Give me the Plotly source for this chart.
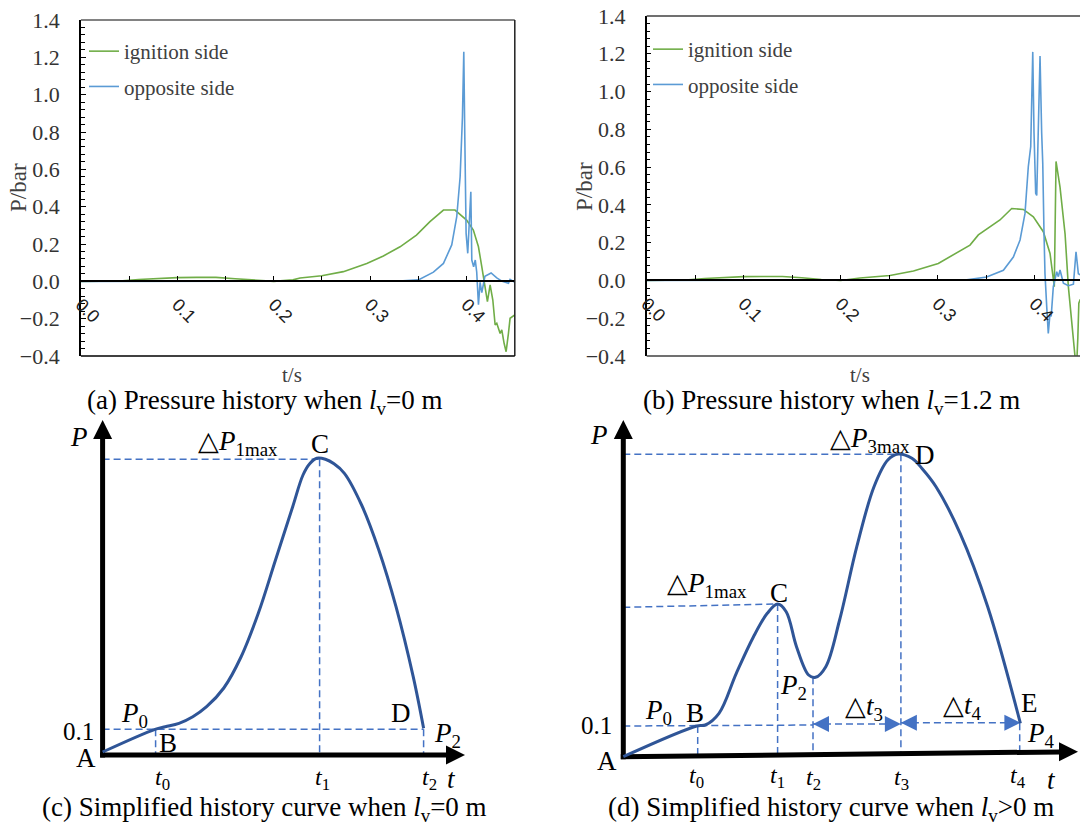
import plotly.graph_objects as go

W, H = 1080, 827
SERIF = "Liberation Serif"

# ---------------- panel (a) data: lv = 0 m ----------------
ta_ign = [0, 0.02, 0.04, 0.06, 0.08, 0.10, 0.12, 0.14, 0.16, 0.18, 0.20, 0.22, 0.2273, 0.2498,
          0.2722, 0.2965, 0.3137, 0.331, 0.348, 0.362, 0.376, 0.388, 0.400, 0.407, 0.4123, 0.4158,
          0.4192, 0.4216, 0.4244, 0.4272, 0.4296, 0.4313, 0.4348, 0.4365, 0.4389, 0.441, 0.4434,
          0.4451, 0.45]
pa_ign = [0, 0, 0.002, 0.010, 0.016, 0.020, 0.021, 0.021, 0.014, 0.005, 0.0, 0.008, 0.018, 0.030,
          0.052, 0.096, 0.136, 0.185, 0.248, 0.320, 0.382, 0.382, 0.328, 0.275, 0.185, 0.078,
          -0.029, -0.109, -0.019, -0.100, -0.234, -0.225, -0.279, -0.260, -0.332, -0.377, -0.279,
          -0.198, -0.180]
ta_opp = [0, 0.30, 0.33, 0.35, 0.3656, 0.376, 0.3846, 0.3898, 0.3933, 0.3957, 0.3971, 0.3981,
          0.3995, 0.4012, 0.403, 0.4044, 0.4054, 0.4073, 0.409, 0.4105, 0.4123, 0.414, 0.4158,
          0.419, 0.4254, 0.4313, 0.437, 0.4434, 0.4451, 0.45]
pa_opp = [0, 0, 0.002, 0.008, 0.049, 0.096, 0.195, 0.346, 0.560, 0.880, 1.230, 0.790, 0.257,
          0.150, 0.300, 0.480, 0.114, 0.078, 0.114, 0.050, -0.125, -0.005, -0.060, 0.027, 0.045,
          0.018, 0.0, -0.010, 0.010, -0.005]

# ---------------- panel (b) data: lv = 1.2 m ----------------
tb_ign = [0, 0.02, 0.04, 0.06, 0.08, 0.10, 0.12, 0.14, 0.16, 0.18, 0.20, 0.2199, 0.2508, 0.275,
          0.3006, 0.3333, 0.3419, 0.3642, 0.3763, 0.3883, 0.3986, 0.4089, 0.4158, 0.4192, 0.4202,
          0.422, 0.4261, 0.4313, 0.4347, 0.4416, 0.443, 0.4445, 0.4455, 0.447]
pb_ign = [0, 0, 0.002, 0.010, 0.016, 0.020, 0.021, 0.021, 0.014, 0.005, 0.0, 0.013, 0.026, 0.050,
          0.090, 0.187, 0.241, 0.320, 0.381, 0.376, 0.337, 0.258, 0.143, 0.019, -0.033, 0.630,
          0.494, 0.247, -0.033, -0.404, -0.480, -0.300, -0.120, -0.100]
tb_opp = [0, 0.30, 0.33, 0.3505, 0.3677, 0.378, 0.3849, 0.39, 0.3934, 0.3959, 0.3969, 0.398,
          0.3993, 0.401, 0.4021, 0.4038, 0.4055, 0.4072, 0.4083, 0.4096, 0.4106, 0.4124, 0.414,
          0.4158, 0.417, 0.4192, 0.4227, 0.4244, 0.4261, 0.4296, 0.4347, 0.4399, 0.4426, 0.445,
          0.447]
pb_opp = [0, 0, 0.003, 0.018, 0.054, 0.124, 0.214, 0.355, 0.602, 0.708, 0.955, 1.210, 0.780,
          0.461, 0.450, 0.780, 1.188, 0.780, 0.621, 0.250, 0.036, -0.140, -0.281, -0.175, -0.190,
          -0.033, 0.046, 0.020, 0.055, -0.014, -0.028, -0.020, 0.152, 0.036, 0.030]

y_ticks = [-0.4, -0.2, 0.0, 0.2, 0.4, 0.6, 0.8, 1.0, 1.2, 1.4]
x_ticks = [0.0, 0.1, 0.2, 0.3, 0.4]
legend_names = ["ignition side", "opposite side"]

# ---------------- panel (c) schematic (arbitrary units) ----------------
c_t = [0, 52.4, 62.7, 76.4, 90.2, 104, 121.2, 138.4, 155.7, 172.9, 190.1, 200.4, 207.3, 214.2,
       222.8, 231.4, 241.8, 259, 276.2, 293.4, 310.6, 321]
c_p = [3, 25.7, 28.3, 31.7, 38.3, 48.3, 67, 98, 141.7, 195, 248.3, 280, 291.5, 296.7,
       295.7, 291.2, 281.7, 250, 205, 148.3, 78.3, 26.7]
c_marks = dict(t0=53, t1=217, t2=321, p01=25.7, pmax=295.7)
c_axis = dict(tmax=362.4, pmax=335)

# ---------------- panel (d) schematic (arbitrary units) ----------------
d_t = [0, 73.4, 82, 95.7, 113, 130.2, 144, 154.3, 162.9, 173.2, 185.3, 192.2, 202.5, 216.3,
       233.5, 250.7, 264.5, 274.8, 288.6, 298.9, 312.7, 336.8, 364.4, 397.1]
d_p = [0, 30.7, 31.7, 43.4, 83.4, 120, 143.4, 152.7, 145, 110, 81.7, 79.4, 90, 136.7,
       210, 270, 296.7, 302.7, 298.4, 288, 270, 223.4, 150, 33.4]
d_marks = dict(t0=74.4, t1=154.3, t2=189.7, t3=277.6, t4=396.4,
               p01=30.7, p1=152.7, p2=79.4, p3=302.4, pe=33.4)
d_axis = dict(tmax=454.7, tslope=5.0, pmax=336.7)

# ---------------- geometry ----------------
def fx(px):
    return px / W

def fy(py):
    return 1 - py / H

xa_dom = [fx(80.9), fx(514.8)]
ya_dom = [fy(356), fy(20)]
xb_dom = [fx(646.7), 1.0]
yb_dom = [fy(356), fy(16)]
yr = [-0.4, 1.4]
xa_rng = [0, 0.45]
xb_rng = [0, (1080 - 646.7) / 970.0]

def zero_pos(dom):
    return dom[0] + (0 - yr[0]) / (yr[1] - yr[0]) * (dom[1] - dom[0])

GREEN = "#70AD47"
BLUE = "#5B9BD5"
DBLUE = "#2F5597"
DASH = "#4472C4"

fig = go.Figure()

fig.add_trace(go.Scatter(x=ta_ign, y=pa_ign, mode="lines", name=legend_names[0],
                         line=dict(color=GREEN, width=1.6), xaxis="x", yaxis="y",
                         legend="legend", legendgroup="a1"))
fig.add_trace(go.Scatter(x=ta_opp, y=pa_opp, mode="lines", name=legend_names[1],
                         line=dict(color=BLUE, width=1.6), xaxis="x", yaxis="y",
                         legend="legend", legendgroup="a2"))
fig.add_trace(go.Scatter(x=tb_ign, y=pb_ign, mode="lines", name=legend_names[0],
                         line=dict(color=GREEN, width=1.6), xaxis="x2", yaxis="y2",
                         legend="legend2", legendgroup="b1"))
fig.add_trace(go.Scatter(x=tb_opp, y=pb_opp, mode="lines", name=legend_names[1],
                         line=dict(color=BLUE, width=1.6), xaxis="x2", yaxis="y2",
                         legend="legend2", legendgroup="b2"))

# ---------- schematic helpers ----------
def sline(xs, ys, ax, color, width, dash=None):
    fig.add_trace(go.Scatter(x=xs, y=ys, mode="lines", xaxis=ax[0], yaxis=ax[1],
                             line=dict(color=color, width=width, dash=dash),
                             showlegend=False, hoverinfo="skip", cliponaxis=False))

def smark(x, y, ax, symbol, size, color):
    fig.add_trace(go.Scatter(x=[x], y=[y], mode="markers", xaxis=ax[0], yaxis=ax[1],
                             marker=dict(symbol=symbol, size=size, color=color,
                                         line=dict(width=0)),
                             showlegend=False, hoverinfo="skip", cliponaxis=False))

DSH = "7px,4px"
DW = 1.5
# ----- (c) -----
axc = ("x3", "y3")
sline([0, c_marks["t2"]], [c_marks["p01"]] * 2, axc, DASH, DW, DSH)
sline([0, c_marks["t1"]], [c_marks["pmax"]] * 2, axc, DASH, DW, DSH)
sline([c_marks["t0"]] * 2, [c_marks["p01"], 0], axc, DASH, DW, DSH)
sline([c_marks["t1"]] * 2, [c_marks["pmax"], 0], axc, DASH, DW, DSH)
sline([c_marks["t2"]] * 2, [c_marks["p01"], 0], axc, DASH, DW, DSH)
sline([0, 0], [-2.5, c_axis["pmax"] - 17], axc, "black", 5)
sline([-2.5, c_axis["tmax"] - 17], [0, 0], axc, "black", 5)
smark(0, c_axis["pmax"], axc, "arrow-up", 19, "black")
smark(c_axis["tmax"], 0, axc, "arrow-right", 19, "black")
fig.add_trace(go.Scatter(x=c_t, y=c_p, mode="lines", xaxis="x3", yaxis="y3",
                         line=dict(color=DBLUE, width=3, shape="spline", smoothing=1.0),
                         showlegend=False, hoverinfo="skip", cliponaxis=False))

# ----- (d) -----
axd = ("x4", "y4")
sl = d_axis["tslope"] / d_axis["tmax"]
sline([0, d_marks["t3"]], [d_marks["p3"]] * 2, axd, DASH, DW, DSH)
sline([0, d_marks["t1"]], [149.4, d_marks["p1"]], axd, DASH, DW, DSH)
sline([0, d_marks["t2"]], [d_marks["p01"], 31.7], axd, DASH, DW, DSH)
sline([d_marks["t2"], d_marks["t3"]], [32.7, 32.7], axd, DASH, DW, DSH)
sline([d_marks["t3"], d_marks["t4"]], [34, 34], axd, DASH, DW, DSH)
for key, top in [("t0", d_marks["p01"]), ("t1", d_marks["p1"]), ("t2", d_marks["p2"]),
                 ("t3", d_marks["p3"]), ("t4", d_marks["pe"])]:
    sline([d_marks[key]] * 2, [top, d_marks[key] * sl], axd, DASH, DW, DSH)
smark(d_marks["t2"], 32.7, axd, "arrow-left", 16, DASH)
smark(d_marks["t3"], 32.7, axd, "arrow-right", 16, DASH)
smark(d_marks["t3"], 34, axd, "arrow-left", 16, DASH)
smark(d_marks["t4"] + 0.7, 34, axd, "arrow-right", 16, DASH)
sline([0, 0], [-2.5, d_axis["pmax"] - 17], axd, "black", 5)
sline([-2.5, d_axis["tmax"] - 17], [0, (d_axis["tmax"] - 17) * sl], axd, "black", 5)
smark(0, d_axis["pmax"], axd, "arrow-up", 19, "black")
smark(d_axis["tmax"], d_axis["tslope"], axd, "arrow-right", 19, "black")
fig.add_trace(go.Scatter(x=d_t, y=d_p, mode="lines", xaxis="x4", yaxis="y4",
                         line=dict(color=DBLUE, width=3, shape="spline", smoothing=1.0),
                         showlegend=False, hoverinfo="skip", cliponaxis=False))

# ---------------- axes ----------------
tickfont = dict(family=SERIF, size=22, color="#333333")
xtickfont = dict(family="Liberation Sans", size=18, color="#202020")

def yaxis_cfg(dom, anchor):
    return dict(domain=dom, range=yr, anchor=anchor, showline=True, linecolor="black",
                linewidth=1.5, ticks="inside", ticklen=5, tickcolor="black",
                tickvals=y_ticks, tickformat=".1f", tickfont=tickfont, ticklabelstandoff=15,
                showgrid=False, zeroline=False, automargin=False,
                minor=dict(ticks="inside", ticklen=4, dtick=0.04, tick0=0, tickcolor="black"))

def xaxis_cfg(dom, rng, ydom):
    return dict(domain=dom, range=rng, anchor="free", position=zero_pos(ydom), showline=True,
                linecolor="black", linewidth=1.5, ticks="inside", ticklen=5, tickcolor="black",
                tickvals=x_ticks, tickformat=".1f", tickangle=45, tickfont=xtickfont,
                ticklabelstandoff=5, showgrid=False, zeroline=False, automargin=False,
                minor=dict(ticks="inside", ticklen=5, dtick=0.05, tick0=0, tickcolor="black"))

lower_dom = [0, fy(420)]
legfont = dict(family=SERIF, size=21, color="#404040")
hid = dict(visible=False, automargin=False, showgrid=False, zeroline=False)
layout = dict(
    width=W, height=H, autosize=False,
    margin=dict(l=0, r=0, t=0, b=0, pad=0, autoexpand=False),
    paper_bgcolor="white", plot_bgcolor="rgba(0,0,0,0)",
    xaxis=xaxis_cfg(xa_dom, xa_rng, ya_dom),
    yaxis=yaxis_cfg(ya_dom, "x"),
    xaxis2=xaxis_cfg(xb_dom, xb_rng, yb_dom),
    yaxis2=yaxis_cfg(yb_dom, "x2"),
    xaxis3=dict(domain=[0, 0.5], range=[-102.6, 437.4], anchor="y3", **hid),
    yaxis3=dict(domain=lower_dom, range=[-72, 335], anchor="x3", **hid),
    xaxis4=dict(domain=[0.5, 1.0], range=[-83.3, 456.7], anchor="y4", **hid),
    yaxis4=dict(domain=lower_dom, range=[-70.3, 336.7], anchor="x4", **hid),
    legend=dict(x=fx(84), y=fy(31), xanchor="left", yanchor="top", bgcolor="rgba(0,0,0,0)",
                font=legfont, traceorder="grouped", tracegroupgap=5, borderwidth=0),
    legend2=dict(x=fx(648), y=fy(29), xanchor="left", yanchor="top", bgcolor="rgba(0,0,0,0)",
                 font=legfont, traceorder="grouped", tracegroupgap=5, borderwidth=0),
    showlegend=True,
)
fig.update_layout(**layout)

# frames
shapes = [
    dict(type="line", xref="x domain", yref="y domain", x0=0, x1=1, y0=1, y1=1,
         line=dict(color="#595959", width=1.5)),
    dict(type="line", xref="x domain", yref="y domain", x0=1, x1=1, y0=0, y1=1,
         line=dict(color="#202020", width=1.5)),
    dict(type="line", xref="x domain", yref="y domain", x0=0, x1=1, y0=0, y1=0,
         line=dict(color="black", width=1.5)),
    dict(type="line", xref="x2 domain", yref="y2 domain", x0=0, x1=1, y0=1, y1=1,
         line=dict(color="#404040", width=1.5)),
    dict(type="line", xref="x2 domain", yref="y2 domain", x0=0, x1=1, y0=0, y1=0,
         line=dict(color="#404040", width=1.5)),
]
fig.update_layout(shapes=shapes)

ann = []

def A(text, x, y, xref="paper", yref="paper", size=22, xanchor="center", yanchor="middle",
      angle=0, color="black"):
    ann.append(dict(text=text, x=x, y=y, xref=xref, yref=yref, showarrow=False,
                    xanchor=xanchor, yanchor=yanchor, textangle=angle,
                    font=dict(family=SERIF, size=size, color=color)))

CAP = 27
LB = 27
TS = 24
# axis titles and captions for (a), (b)
A("P/bar", fx(19), fy(188), size=23, angle=-90, color="#404040")
A("P/bar", fx(584), fy(187), size=23, angle=-90, color="#404040")
A("t/s", fx(292), fy(375), size=21, color="#404040")
A("t/s", fx(860), fy(375), size=21, color="#404040")
A("(a) Pressure history when <i>l</i><sub>v</sub>=0 m", fx(264), fy(402), size=CAP)
A("(b) Pressure history when <i>l</i><sub>v</sub>=1.2 m", fx(831), fy(402), size=CAP)

# (c) labels
c = dict(xref="x3", yref="y3")
A("<i>P</i>", -23.6, 318.3, size=LB, **c)
A("△<i>P</i><sub>1max</sub>", 135.4, 312, size=LB, **c)
A("C", 217, 311, size=LB, **c)
A("<i>P</i><sub>0</sub>", 31.4, 40, size=LB, **c)
A("0.1", -24.3, 23.3, size=25, **c)
A("B", 65.1, 12.3, size=LB, **c)
A("A", -16.6, -3, size=LB, **c)
A("D", 298.4, 42.3, size=LB, **c)
A("<i>P</i><sub>2</sub>", 345, 20, size=LB, **c)
A("<i>t</i><sub>0</sub>", 59.4, -24, size=TS, **c)
A("<i>t</i><sub>1</sub>", 219.4, -24, size=TS, **c)
A("<i>t</i><sub>2</sub>", 326.9, -24, size=TS, **c)
A("<i>t</i>", 349.2, -24, size=LB, **c)
A("(c) Simplified history curve when <i>l</i><sub>v</sub>=0 m", 161.7, -54, size=CAP, **c)

# (d) labels
d = dict(xref="x4", yref="y4")
A("<i>P</i>", -24.8, 321.7, size=LB, **d)
A("△<i>P</i><sub>3max</sub>", 247, 317, size=LB, **d)
A("D", 302, 302, size=LB, **d)
A("△<i>P</i><sub>1max</sub>", 83.7, 172, size=LB, **d)
A("C", 156, 164, size=LB, **d)
A("<i>P</i><sub>2</sub>", 169.7, 70, size=LB, **d)
A("△<i>t</i><sub>3</sub>", 240.2, 49, size=LB, **d)
A("△<i>t</i><sub>4</sub>", 338.7, 49.7, size=LB, **d)
A("E", 405.7, 53.4, size=LB, **d)
A("<i>P</i><sub>4</sub>", 417.7, 21.4, size=LB, **d)
A("<i>P</i><sub>0</sub>", 35.5, 44.7, size=LB, **d)
A("B", 71.7, 43.4, size=LB, **d)
A("0.1", -27.3, 31.7, size=25, **d)
A("A", -16.3, -4, size=LB, **d)
A("<i>t</i><sub>0</sub>", 73.4, -20, size=TS, **d)
A("<i>t</i><sub>1</sub>", 154.3, -20, size=TS, **d)
A("<i>t</i><sub>2</sub>", 190.5, -22, size=TS, **d)
A("<i>t</i><sub>3</sub>", 278.3, -22, size=TS, **d)
A("<i>t</i><sub>4</sub>", 394.7, -20, size=TS, **d)
A("<i>t</i>", 428.1, -23.5, size=LB, **d)
A("(d) Simplified history curve when <i>l</i><sub>v</sub>&gt;0 m", 207.7, -52.5, size=CAP, **d)

fig.update_layout(annotations=ann)

fig.write_html("out.html")
